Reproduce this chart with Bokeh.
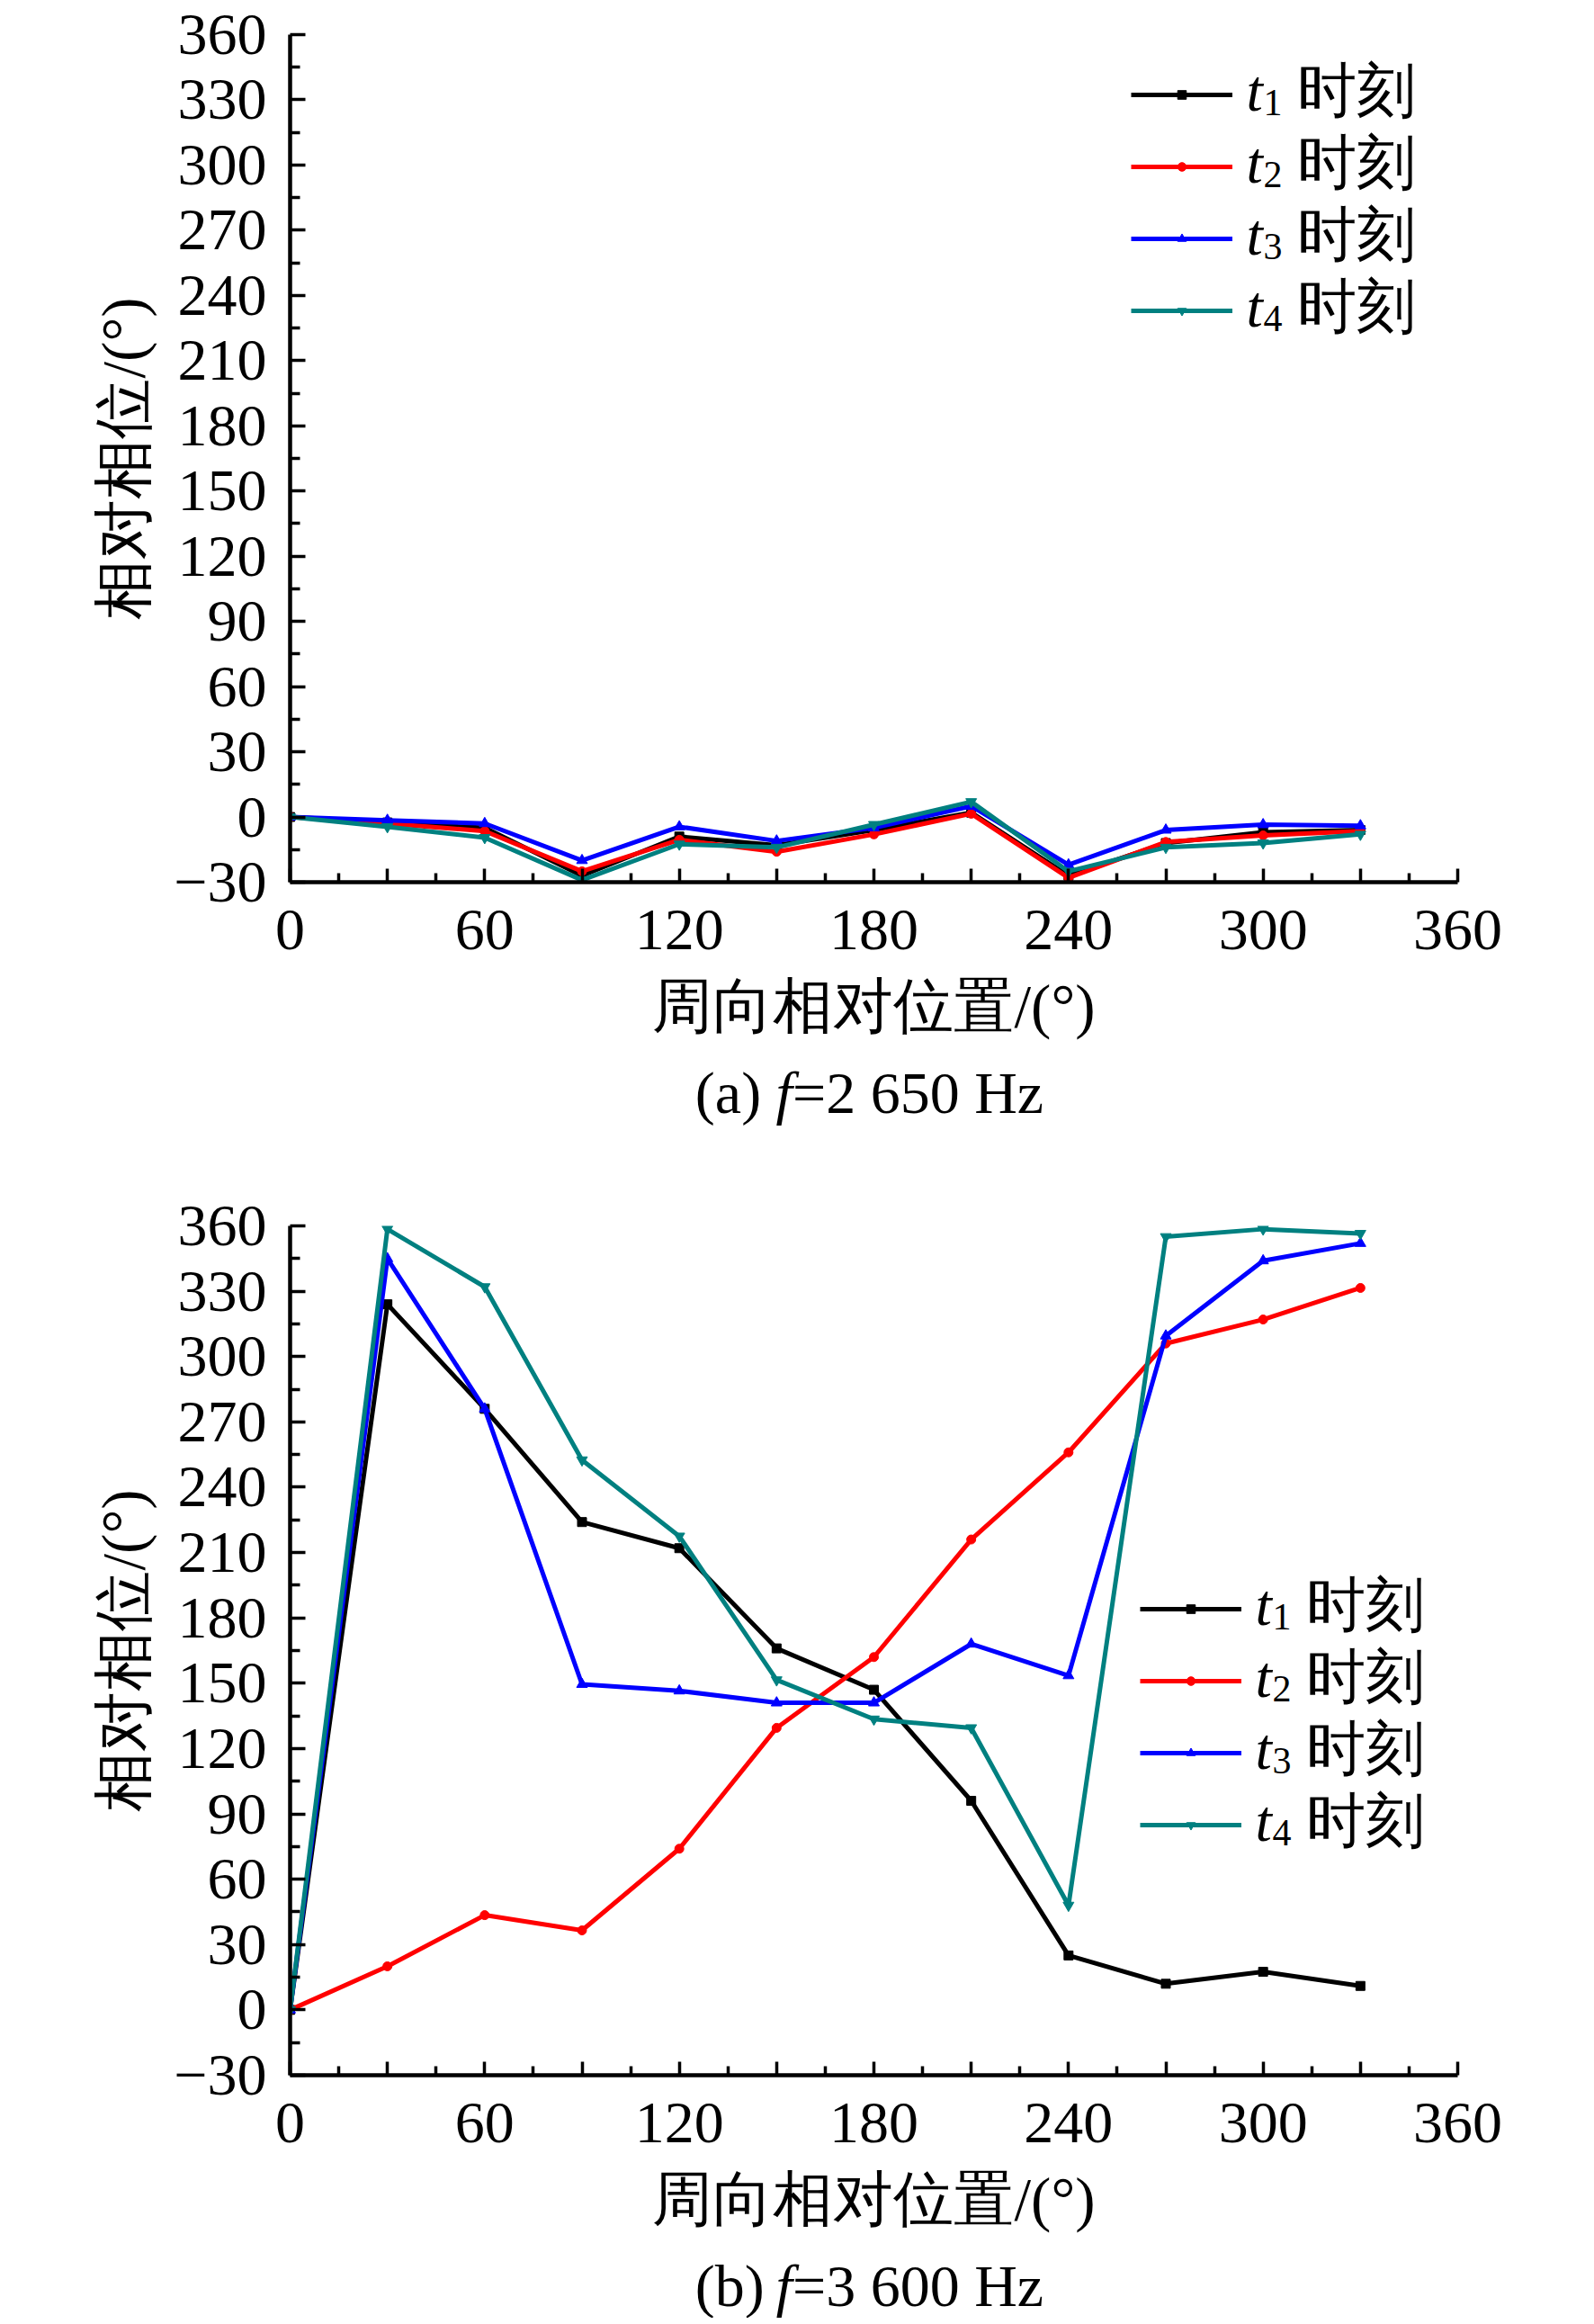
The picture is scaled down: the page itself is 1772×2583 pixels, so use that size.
from bokeh.plotting import figure
from bokeh.models import Range1d, FixedTicker, Label, Legend, LegendItem
from bokeh.layouts import column
from bokeh.embed import file_html
from bokeh.resources import INLINE

# ---------------- data ----------------
positions = [0, 30, 60, 90, 120, 150, 180, 210, 240, 270, 300, 330]

# (a) f = 2 650 Hz
a_t1 = [0, -2.5, -5, -27, -9, -13, -6, 2, -27, -12, -7, -6]
a_t2 = [0, -3, -6.5, -25, -10.5, -16, -8, 1.5, -28, -11.5, -8.5, -6.5]
a_t3 = [0, -1.5, -3, -20, -4.5, -11, -5, 5, -22, -6, -3.5, -4]
a_t4 = [0, -4.5, -9.5, -29, -12.5, -14, -3.5, 7, -25, -14, -12, -8]

# (b) f = 3 600 Hz
b_t1 = [0, 324, 276, 224, 212, 166, 147, 96, 25, 12, 17.5, 11]
b_t2 = [0, 20, 43.5, 36.5, 74, 129.5, 162, 216, 256, 306, 317, 331.5]
b_t3 = [0, 345, 276, 149.5, 146.5, 141, 141, 168, 153.5, 309.5, 344, 352]
b_t4 = [0, 358.5, 332, 252.5, 217.5, 151.5, 133.5, 129.5, 48, 355, 358.5, 356.5]

series_subs = ["1", "2", "3", "4"]
legend_word = "时刻"
x_title = "周向相对位置/(°)"
y_title = "相对相位/(°)"
y_ticks = list(range(-30, 361, 30))
y_minor = list(range(-15, 360, 30))
x_ticks = list(range(0, 361, 30))
x_minor = list(range(15, 360, 30))
x_labels = {v: (str(v) if v % 60 == 0 else "") for v in x_ticks}
y_labels = {v: str(v).replace("-", "\u2212") for v in y_ticks}

# ---------------- style ----------------
colors = ["#000000", "#ff0000", "#0000ff", "#008080"]
markers = ["square", "circle", "triangle", "inverted_triangle"]
msizes = [10, 10, 12, 12]
FONT = "Liberation Serif"
TICK_FS = "66px"
LABEL_FS = "67px"
FRAME_W = 1298
FIG_W = 1764
LEFT = 322
RIGHT = FIG_W - LEFT - FRAME_W


def make_panel(series, frame_h, b_top, b_bottom, leg_x, leg_top_c):
    p = figure(frame_width=FRAME_W, frame_height=frame_h,
               min_border_left=LEFT, min_border_right=RIGHT,
               min_border_top=b_top, min_border_bottom=b_bottom,
               x_range=Range1d(0, 360), y_range=Range1d(-30, 360),
               output_backend="svg", toolbar_location=None, tools="")
    p.outline_line_color = None
    p.grid.visible = False
    p.background_fill_color = "white"
    p.border_fill_color = "white"

    items = []
    for vals, col, mk, ms in zip(series, colors, markers, msizes):
        lr = p.line(positions, vals, line_color=col, line_width=5)
        sr = p.scatter(positions, vals, marker=mk, size=ms,
                       fill_color=col, line_color=col)
        items.append(LegendItem(label=" ", renderers=[lr, sr]))

    gh, sp = 24, 56
    leg_h = 4 * gh + 3 * sp
    leg = Legend(items=items, location=(leg_x, leg_top_c + gh // 2 - leg_h),
                 glyph_width=113, glyph_height=gh, spacing=sp,
                 padding=0, margin=0, label_standoff=0, label_width=0,
                 label_height=0, label_text_font_size="1px",
                 border_line_color=None, background_fill_color=None,
                 background_fill_alpha=0)
    p.add_layout(leg)

    for i, s in enumerate(series_subs):
        c = leg_top_c - 80 * i
        p.add_layout(Label(x=0, y=-30, x_offset=leg_x + 128, y_offset=c + 5,
                           text="t", text_font=FONT, text_font_size="66px",
                           text_color="black",
                           text_font_style="italic", text_baseline="alphabetic"))
        p.add_layout(Label(x=0, y=-30, x_offset=leg_x + 147, y_offset=c - 8,
                           text=s, text_font=FONT, text_font_size="42px",
                           text_color="black", text_baseline="alphabetic"))
        p.add_layout(Label(x=0, y=-30, x_offset=leg_x + 184, y_offset=c + 5,
                           text=legend_word, text_font=FONT, text_font_size="66px",
                           text_color="black", text_baseline="alphabetic"))

    xa = p.xaxis[0]
    ya = p.yaxis[0]
    xa.ticker = FixedTicker(ticks=x_ticks, minor_ticks=x_minor)
    ya.ticker = FixedTicker(ticks=y_ticks, minor_ticks=y_minor)
    xa.major_label_overrides = x_labels
    ya.major_label_overrides = y_labels
    xa.axis_label = x_title
    ya.axis_label = y_title
    for ax in (xa, ya):
        ax.axis_line_width = 4.5
        ax.axis_line_color = "black"
        ax.major_tick_line_width = 3.5
        ax.minor_tick_line_width = 3.5
        ax.major_tick_line_color = "black"
        ax.minor_tick_line_color = "black"
        ax.major_tick_out = 0
        ax.minor_tick_out = 0
        ax.major_label_text_font = FONT
        ax.major_label_text_font_size = TICK_FS
        ax.major_label_text_color = "black"
        ax.axis_label_text_font = FONT
        ax.axis_label_text_font_size = LABEL_FS
        ax.axis_label_text_font_style = "normal"
        ax.axis_label_text_color = "black"
    xa.major_tick_in = 15
    xa.minor_tick_in = 10
    ya.major_tick_in = 17
    ya.minor_tick_in = 11
    xa.major_label_standoff = 31
    xa.axis_label_standoff = 23
    ya.major_label_standoff = 26
    ya.axis_label_standoff = 16
    return p


def make_caption(tag, freq, h, yc):
    c = figure(frame_width=FRAME_W, frame_height=h,
               min_border_left=LEFT, min_border_right=RIGHT,
               min_border_top=0, min_border_bottom=0,
               x_range=Range1d(0, FRAME_W), y_range=Range1d(0, h),
               x_axis_location=None, y_axis_location=None,
               output_backend="svg", toolbar_location=None, tools="")
    c.outline_line_color = None
    c.grid.visible = False
    c.background_fill_color = "white"
    c.border_fill_color = "white"
    W = 66
    x0 = 644 - 5.868 * W / 2
    parts = [(f"({tag}) ", "normal", 0.0), ("f", "italic", 1.36),
             (f"={freq} Hz", "normal", 1.638)]
    for txt, style, off in parts:
        c.add_layout(Label(x=x0 + off * W, y=yc, text=txt, text_font=FONT,
                           text_font_size=f"{W}px", text_font_style=style,
                           text_color="black",
                           text_baseline="middle", text_align="left"))
    return c


p1 = make_panel([a_t1, a_t2, a_t3, a_t4], 942, 38, 190, 935, 875)
c1 = make_caption("a", "2 650", 86, 42)
p2 = make_panel([b_t1, b_t2, b_t3, b_t4], 944, 106, 190, 945, 518)
c2 = make_caption("b", "3 600", 80, 36)

layout = column(p1, c1, p2, c2, spacing=0)
open("out.html", "w").write(file_html(layout, INLINE))
